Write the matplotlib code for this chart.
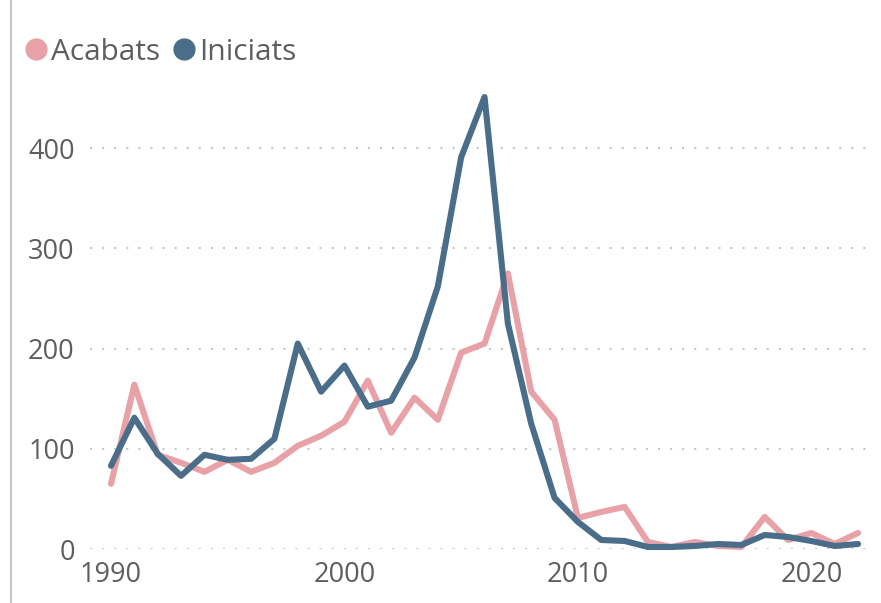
import matplotlib
matplotlib.use("Agg")
import matplotlib.pyplot as plt
from matplotlib.lines import Line2D

years = list(range(1990, 2023))

acabats = [65, 164, 94, 86, 77, 89, 77, 86, 103, 113, 127, 168, 116, 151, 129,
           196, 205, 275, 157, 129, 31, 37, 42, 7, 2, 7, 3, 2, 32, 9, 16, 5, 16]
iniciats = [83, 131, 95, 73, 94, 89, 90, 110, 205, 157, 183, 142, 148, 191, 262,
            391, 451, 225, 125, 51, 27, 9, 8, 2, 2, 3, 5, 4, 14, 12, 8, 3, 5]

series_names = ["Acabats", "Iniciats"]
yticks = [0, 100, 200, 300, 400]
xticks = [1990, 2000, 2010, 2020]

pink = "#E8A2A7"
blue = "#4A6E89"
text_col = "#605E5C"
grid_col = "#C8C8C8"

W, H = 881, 603
fig = plt.figure(figsize=(W / 100, H / 100), dpi=100)
plt.rcParams["font.family"] = ["Open Sans", "DejaVu Sans"]

left, right = 90, 873
bottom, top = 549, 88
ax = fig.add_axes([left / W, 1 - bottom / H, (right - left) / W, (bottom - top) / H])

ax.plot(years, acabats, color=pink, lw=4.4, solid_joinstyle="round",
        solid_capstyle="round", clip_on=False, zorder=3)
ax.plot(years, iniciats, color=blue, lw=4.4, solid_joinstyle="round",
        solid_capstyle="round", clip_on=False, zorder=4)

ax.set_xlim(1989.1, 2022.64)
ax.set_ylim(0, 460)
ax.set_yticks(yticks)
ax.set_xticks(xticks)
ax.yaxis.grid(True, color=grid_col, linestyle=(0, (1, 4.8)), linewidth=1.5)
ax.xaxis.grid(False)
ax.set_axisbelow(True)
for s in ax.spines.values():
    s.set_visible(False)
ax.tick_params(axis="both", length=0, labelsize=19.5, labelcolor=text_col)
ax.tick_params(axis="y", pad=11)
ax.tick_params(axis="x", pad=9)

# panel border on the left
fig.add_artist(Line2D([11 / W, 11 / W], [0, 1], color="#C8C8C8", lw=1.6,
                      transform=fig.transFigure))

# legend
handles = [Line2D([], [], marker="o", linestyle="none", markersize=15,
                  markerfacecolor=c, markeredgecolor=c) for c in (pink, blue)]
fig.legend(handles, series_names, loc="upper left",
           bbox_to_anchor=(17 / W, 1 - 26 / H), frameon=False, ncol=2,
           handlelength=0.5, handletextpad=0.25, columnspacing=0.55,
           borderaxespad=0, prop={"size": 21.5}, labelcolor=text_col)

fig.savefig("out.png", dpi=100)
